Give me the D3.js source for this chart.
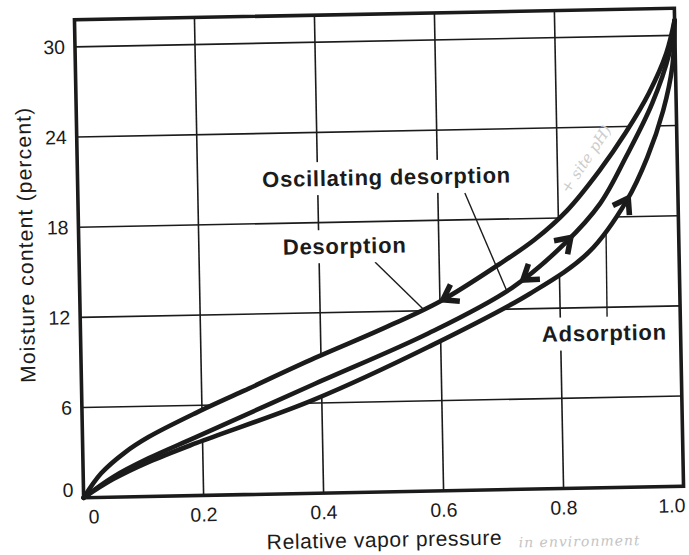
<!DOCTYPE html>
<html lang="en">
<head>
<meta charset="utf-8">
<title>Moisture sorption isotherm</title>
<script src="https://d3js.org/d3.v7.min.js"></script>
<style>
  body { margin: 0; background: #fff; }
  svg { display: block; font-family: "Liberation Sans", Arial, sans-serif; }
</style>
</head>
<body>
<div id="chart"></div>
<script>
// relative vapor pressure -> moisture content (percent)
var desorption = [[0,0],[0.03,1.6],[0.07,2.95],[0.11,3.95],[0.19,5.5],[0.27,6.9],[0.39,9.0],[0.5,10.8],
  [0.6,12.6],[0.7,15.0],[0.76,16.6],[0.815,18.5],[0.87,21.1],[0.915,23.6],[0.955,26.2],[0.985,28.8],[1.0,31]];
var oscillating = [[0,0],[0.05,1.35],[0.11,2.55],[0.19,3.9],[0.39,7.3],[0.58,10.5],[0.72,13.4],[0.81,16.3],
  [0.87,18.9],[0.915,22.0],[0.96,25.5],[0.99,28.8],[1.0,31]];
var adsorption = [[0,0],[0.05,1.2],[0.11,2.3],[0.19,3.5],[0.385,6.2],[0.58,9.6],[0.75,13.0],[0.85,15.7],
  [0.915,19.1],[0.95,21.9],[0.978,25.0],[0.995,28.0],[1.0,31]];
var xTicks = [0, 0.2, 0.4, 0.6, 0.8, 1.0];
var yTicks = [0, 6, 12, 18, 24, 30];
var xTickText = ['0', '0.2', '0.4', '0.6', '0.8', '1.0'];

// labels with leader lines (label anchor and leader start in data units, leader end on a curve)
var notes = [
  {text: 'Oscillating desorption', x: 0.515, y: 20.43, from: [0.645, 19.78], curve: 'oscillating', at: 0.712},
  {text: 'Desorption', x: 0.443, y: 15.9, from: [0.493, 15.31], curve: 'desorption', at: 0.573},
  {text: 'Adsorption', x: 0.873, y: 9.78, from: [0.878, 11.28], curve: 'adsorption', at: 0.879}
];
// arrowheads: curve, position, direction (+1 up the curve, -1 down)
var arrows = [
  {curve: 'desorption', at: 0.605, dir: -1},
  {curve: 'oscillating', at: 0.739, dir: -1},
  {curve: 'oscillating', at: 0.82, dir: 1},
  {curve: 'adsorption', at: 0.917, dir: 1}
];

var W = 689, H = 555;
var margin = {top: 14, right: 10, bottom: 63, left: 79};
var innerW = W - margin.left - margin.right, innerH = H - margin.top - margin.bottom;
var ink = '#1b1b1b';

var svg = d3.select('#chart').append('svg').attr('width', W).attr('height', H);
svg.append('rect').attr('width', W).attr('height', H).attr('fill', '#fff');

// the scanned page sits slightly rotated
var page = svg.append('g').attr('transform', 'rotate(-1.1,379,253)');
var g = page.append('g').attr('transform', 'translate(' + [margin.left, margin.top] + ')');

var x = d3.scaleLinear().domain([0, 1]).range([0, innerW]);
var y = d3.scaleLinear().domain([0, 31.8]).range([innerH, 0]);

// grid
g.selectAll('.vgrid').data(xTicks.slice(1, -1)).enter().append('line')
  .attr('x1', function(d){return x(d)}).attr('x2', function(d){return x(d)})
  .attr('y1', 0).attr('y2', innerH)
  .attr('stroke', ink).attr('stroke-width', 1.6);
g.selectAll('.hgrid').data(yTicks.slice(1)).enter().append('line')
  .attr('x1', 0).attr('x2', innerW)
  .attr('y1', function(d){return y(d)}).attr('y2', function(d){return y(d)})
  .attr('stroke', ink).attr('stroke-width', 1.6);

var line = d3.line().x(function(d){return x(d[0])}).y(function(d){return y(d[1])})
  .curve(d3.curveCatmullRom.alpha(0.5));

// white band between the outer curves hides the grid
var band = line(desorption) + 'L' + line(adsorption.slice().reverse()).slice(1) + 'Z';
g.append('path').attr('d', band).attr('fill', '#fff');

var series = {desorption: desorption, oscillating: oscillating, adsorption: adsorption};
var paths = {};
Object.keys(series).forEach(function(k) {
  paths[k] = g.append('path').attr('d', line(series[k]))
    .attr('fill', 'none').attr('stroke', ink).attr('stroke-width', 4.6)
    .attr('stroke-linecap', 'round').node();
});

function lengthAtX(node, px) {
  var lo = 0, hi = node.getTotalLength();
  for (var i = 0; i < 40; i++) {
    var mid = (lo + hi) / 2;
    if (node.getPointAtLength(mid).x < px) lo = mid; else hi = mid;
  }
  return (lo + hi) / 2;
}

// arrowheads
arrows.forEach(function(a) {
  var node = paths[a.curve];
  var L = lengthAtX(node, x(a.at));
  var p = node.getPointAtLength(L),
    p0 = node.getPointAtLength(L - 2), p1 = node.getPointAtLength(L + 2);
  var ang = Math.atan2(p1.y - p0.y, p1.x - p0.x);
  if (a.dir < 0) ang += Math.PI;
  var len = 17, spread = 0.6;
  var b1 = [p.x - len * Math.cos(ang - spread), p.y - len * Math.sin(ang - spread)];
  var b2 = [p.x - len * Math.cos(ang + spread), p.y - len * Math.sin(ang + spread)];
  g.append('path')
    .attr('d', 'M' + b1 + 'L' + [p.x, p.y] + 'L' + b2)
    .attr('fill', 'none').attr('stroke', ink).attr('stroke-width', 5.6)
    .attr('stroke-linejoin', 'miter').attr('stroke-miterlimit', 8);
});

// labels with white knock-out behind them
notes.forEach(function(n) {
  var node = paths[n.curve];
  var p = node.getPointAtLength(lengthAtX(node, x(n.at)));
  g.append('line')
    .attr('x1', x(n.from[0])).attr('y1', y(n.from[1]))
    .attr('x2', p.x).attr('y2', p.y)
    .attr('stroke', ink).attr('stroke-width', 1.4);
  var lg = g.append('g');
  var t = lg.append('text')
    .attr('x', x(n.x)).attr('y', y(n.y))
    .attr('text-anchor', 'middle')
    .attr('font-size', 22).attr('font-weight', 'bold')
    .attr('letter-spacing', 0.75)
    .attr('fill', ink).text(n.text);
  var bb = t.node().getBBox();
  lg.insert('rect', 'text')
    .attr('x', bb.x - 4).attr('y', bb.y - 4)
    .attr('width', bb.width + 8).attr('height', bb.height + 8)
    .attr('fill', '#fff');
});

// frame
g.append('rect').attr('width', innerW).attr('height', innerH)
  .attr('fill', 'none').attr('stroke', ink).attr('stroke-width', 3.6);

// tick labels
g.selectAll('.xlab').data(xTicks).enter().append('text')
  .attr('x', function(d, i){return x(d) + (i === 0 ? 10 : i === xTicks.length - 1 ? -12 : 0)})
  .attr('y', innerH + 26)
  .attr('text-anchor', 'middle').attr('font-size', 19.5).attr('fill', ink)
  .text(function(d, i){return xTickText[i]});
g.selectAll('.ylab').data(yTicks).enter().append('text')
  .attr('x', -10)
  .attr('y', function(d){return y(d) + (d === 0 ? -8 : 0)})
  .attr('dy', '0.35em')
  .attr('text-anchor', 'end').attr('font-size', 19.5).attr('fill', ink)
  .text(function(d){return d});

// axis titles
g.append('text')
  .attr('x', innerW / 2).attr('y', innerH + 55)
  .attr('text-anchor', 'middle').attr('font-size', 21).attr('letter-spacing', 0.6)
  .attr('fill', ink).text('Relative vapor pressure');
g.append('text')
  .attr('transform', 'translate(' + [33 - margin.left, 238 - margin.top] + ') rotate(-90)')
  .attr('text-anchor', 'middle').attr('font-size', 21).attr('letter-spacing', 1.2)
  .attr('fill', ink).text('Moisture content (percent)');

// pencil notes on the page
page.append('text')
  .attr('x', 574).attr('y', 550)
  .attr('text-anchor', 'middle').attr('font-family', 'DejaVu Serif').attr('font-style', 'italic')
  .attr('font-size', 14).attr('fill', '#c4c4c4').attr('letter-spacing', 1)
  .text('in environment');
page.append('text')
  .attr('transform', 'translate(592,166) rotate(-55)')
  .attr('text-anchor', 'middle').attr('font-family', 'DejaVu Serif').attr('font-style', 'italic')
  .attr('font-size', 15).attr('fill', '#cccccc')
  .text('+ site pH)');
</script>
</body>
</html>
